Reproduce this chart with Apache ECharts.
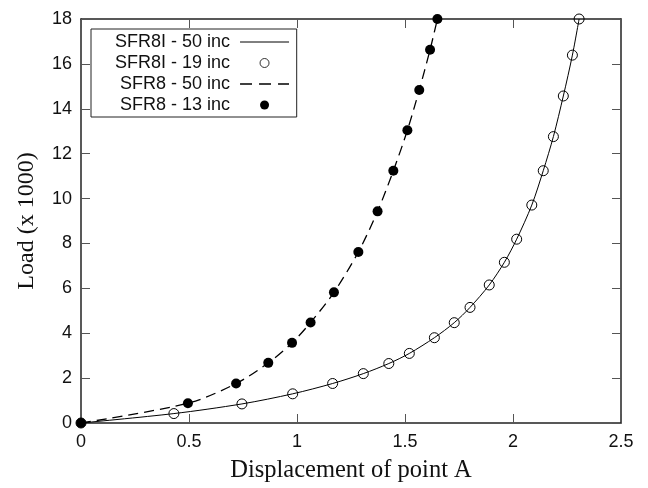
<!DOCTYPE html>
<html>
<head>
<meta charset="utf-8">
<script src="https://cdn.jsdelivr.net/npm/echarts@6/dist/echarts.min.js"></script>
<style>html,body{margin:0;padding:0;background:#fff}#c{width:648px;height:488px}</style>
</head>
<body>
<div id="c"></div>
<script>
// Data
var sfr8iX = [0, 0.43, 0.745, 0.98, 1.165, 1.307, 1.425, 1.52, 1.636, 1.728, 1.801, 1.89, 1.96, 2.017, 2.087, 2.14, 2.187, 2.233, 2.275, 2.306];
var sfr8iY = [0, 0.42, 0.85, 1.3, 1.76, 2.2, 2.65, 3.1, 3.8, 4.47, 5.15, 6.15, 7.16, 8.19, 9.71, 11.24, 12.76, 14.57, 16.39, 18];
var sfr8X = [0, 0.495, 0.718, 0.867, 0.977, 1.063, 1.171, 1.284, 1.373, 1.446, 1.511, 1.566, 1.616, 1.65];
var sfr8Y = [0, 0.88, 1.76, 2.68, 3.57, 4.48, 5.82, 7.62, 9.43, 11.24, 13.04, 14.84, 16.63, 18];
// 50-increment solutions (curves pass through the marker points)
var sfr8i50X = sfr8iX, sfr8i50Y = sfr8iY;
var sfr850X = sfr8X, sfr850Y = sfr8Y;
var seriesNames = ['SFR8I - 50 inc', 'SFR8I - 19 inc', 'SFR8 - 50 inc', 'SFR8 - 13 inc'];
var xTicks = {min: 0, max: 2.5, interval: 0.5};
var yTicks = {min: 0, max: 18, interval: 2};

function pairs(xs, ys) { return xs.map(function (x, i) { return [x, ys[i]]; }); }

var sans = '"Liberation Sans", Arial, sans-serif';
var serif = '"Liberation Serif", "Times New Roman", serif';
var frame = {show: true, onZero: false, lineStyle: {color: '#222', width: 1.5}};
var tick = {show: true, inside: true, length: 9, lineStyle: {color: '#555', width: 1}};
var hidden = {color: 'rgba(0,0,0,0)', borderColor: 'rgba(0,0,0,0)', borderWidth: 0};

var chart = echarts.init(document.getElementById('c'), null, {renderer: 'canvas'});
chart.setOption({
  animation: false,
  backgroundColor: '#fff',
  grid: {left: 81, right: 27, top: 19, bottom: 65},
  legend: {
    data: [
      {name: seriesNames[0], itemStyle: hidden, lineStyle: {width: 1}},
      {name: seriesNames[1], itemStyle: {color: 'rgba(255,255,255,0)', borderColor: '#000', borderWidth: 0.8}},
      {name: seriesNames[2], itemStyle: hidden, lineStyle: {width: 1.3, type: [12, 7]}},
      {name: seriesNames[3]}
    ],
    orient: 'vertical',
    left: 91, top: 29,
    align: 'right',
    itemWidth: 49, itemHeight: 9, itemGap: 3,
    padding: [4, 7, 3, 24],
    borderColor: '#222', borderWidth: 1, backgroundColor: '#fff',
    formatter: function (n) { return n + ' '; },
    textStyle: {fontFamily: sans, fontSize: 18, color: '#111'}
  },
  xAxis: [{
    type: 'value', min: xTicks.min, max: xTicks.max, interval: xTicks.interval,
    name: 'Displacement of point A', nameLocation: 'middle', nameGap: 35,
    nameTextStyle: {fontFamily: serif, fontSize: 24.5, color: '#111'},
    axisLine: frame, axisTick: tick, splitLine: {show: false},
    axisLabel: {fontFamily: sans, fontSize: 18, color: '#111', margin: 10}
  }, {
    type: 'value', position: 'top', min: xTicks.min, max: xTicks.max, interval: xTicks.interval,
    axisLine: frame, axisTick: tick, splitLine: {show: false}, axisLabel: {show: false}
  }],
  yAxis: [{
    type: 'value', min: yTicks.min, max: yTicks.max, interval: yTicks.interval,
    name: 'Load (x 1000)', nameLocation: 'middle', nameGap: 42,
    nameTextStyle: {fontFamily: serif, fontSize: 24, color: '#111'},
    axisLine: frame, axisTick: tick, splitLine: {show: false},
    axisLabel: {fontFamily: sans, fontSize: 18, color: '#111', margin: 9}
  }, {
    type: 'value', position: 'right', min: yTicks.min, max: yTicks.max, interval: yTicks.interval,
    axisLine: frame, axisTick: tick, splitLine: {show: false}, axisLabel: {show: false}
  }],
  series: [{
    name: seriesNames[0], type: 'line', data: pairs(sfr8i50X, sfr8i50Y),
    smooth: 0.3, showSymbol: false, symbol: 'none',
    lineStyle: {color: '#000', width: 1}, itemStyle: {color: '#000'}, z: 2
  }, {
    name: seriesNames[1], type: 'scatter', data: pairs(sfr8iX, sfr8iY),
    symbol: 'circle', symbolSize: 10, clip: false,
    itemStyle: {color: 'rgba(255,255,255,0)', borderColor: '#000', borderWidth: 1, opacity: 1}, z: 3
  }, {
    name: seriesNames[2], type: 'line', data: pairs(sfr850X, sfr850Y),
    smooth: 0.3, showSymbol: false, symbol: 'none',
    lineStyle: {color: '#000', width: 1.3, type: [10, 6]}, itemStyle: {color: '#000'}, z: 2
  }, {
    name: seriesNames[3], type: 'scatter', data: pairs(sfr8X, sfr8Y),
    symbol: 'circle', symbolSize: 10, clip: false,
    itemStyle: {color: '#000', opacity: 1}, z: 4
  }]
});
</script>
</body>
</html>
